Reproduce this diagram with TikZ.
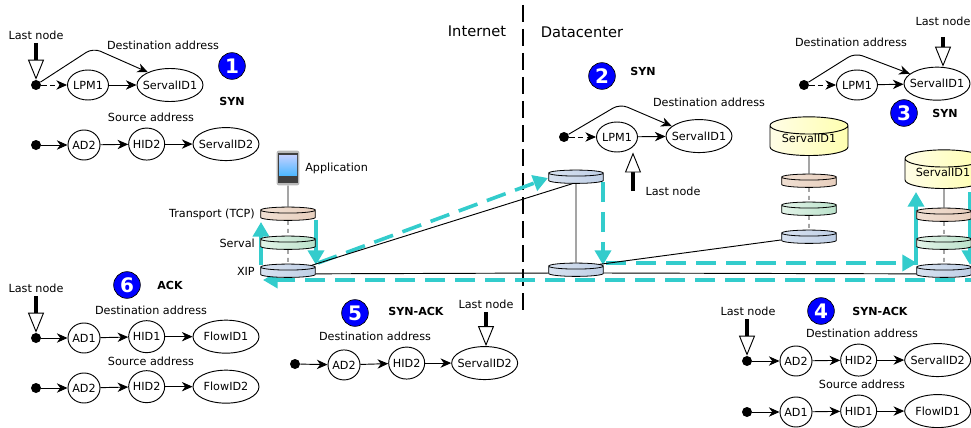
\documentclass[tikz,border=0pt]{standalone}
\usepackage{fontspec}
\setmainfont{DejaVu Sans}
\usetikzlibrary{shapes.geometric,arrows.meta}
\definecolor{pathcyan}{HTML}{33CCCC}
\begin{document}
\begin{tikzpicture}[
        x=0.75pt, y=-0.75pt,
        node distance=45pt,
        txt/.style={font=\fontsize{8.4}{10}\selectfont, inner sep=0pt},
        head/.style={font=\fontsize{11}{13}\selectfont, inner sep=0pt},
        pkt/.style={font=\bfseries\fontsize{8.3}{10}\selectfont, inner sep=0pt},
        badge/.style={circle, draw=black, fill=blue, text=white, minimum size=20pt, inner sep=0pt, line width=0.5pt, font=\bfseries\fontsize{15}{17}\selectfont},
        dot/.style={circle, fill=black, minimum width=7.5pt, minimum height=7pt, inner sep=0pt},
        addr/.style={ellipse, draw, line width=0.7pt, inner sep=-6pt, font=\fontsize{8.4}{10}\selectfont},
        lpm/.style={addr, minimum width=30.75pt, minimum height=22.5pt},
        ad/.style={addr, minimum width=24pt, minimum height=22.5pt},
        hid/.style={addr, minimum width=27pt, minimum height=24pt},
        sid/.style={addr, minimum width=49.5pt, minimum height=24.75pt},
        layer/.style={cylinder, shape border rotate=90, draw, aspect=0.11, inner xsep=20.5pt, inner ysep=0pt, minimum height=10pt, line width=0.6pt, yshift=-2.2pt},
        tcp/.style={layer, left color=tanA, right color=tanB},
        srv/.style={layer, left color=greenA, right color=greenB},
        xip/.style={layer, left color=blueA, right color=blueB},
        app/.style={cylinder, shape border rotate=90, draw, aspect=0.22, inner xsep=29.25pt, inner ysep=0pt, minimum height=29pt, line width=0.7pt, left color=yellowA, right color=yellowB, yshift=-4.5pt},
        hop/.style={-{Stealth[length=8pt,width=7pt,inset=2.5pt]}, line width=0.7pt},
        hopdash/.style={hop, dash pattern=on 4pt off 2.5pt},
        last/.style={-{Triangle[open,fill=white,length=15pt,width=12pt,line width=0.7pt]}, line width=2.8pt},
        wire/.style={line width=0.7pt},
        flow/.style={-{Triangle[length=11pt,width=12pt]}, pathcyan, line width=2.7pt},
        flowdash/.style={flow, dash pattern=on 15pt off 7.5pt},
        split/.style={line width=1pt, dash pattern=on 13pt off 5pt}
    ]
        \definecolor{tanA}{HTML}{F0DFD2}
        \definecolor{tanB}{HTML}{E8CFBE}
        \definecolor{greenA}{HTML}{E2F3E8}
        \definecolor{greenB}{HTML}{BBE2CB}
        \definecolor{blueA}{HTML}{D8E2F0}
        \definecolor{blueB}{HTML}{BFCFE6}
        \definecolor{yellowA}{HTML}{FFFDE6}
        \definecolor{yellowB}{HTML}{FFFFB0}
        \useasboundingbox (0,0) rectangle (971,428);

        % Internet / Datacenter
        \coordinate (splittop) at (523,5);
        \coordinate (splitbot) at (523,315);
        \draw[split] (splittop) -- (splitbot);
        \node[head] (internet) at (477,31) {Internet};
        \node[head] (datacenter) at (582,32) {Datacenter};

        % Packet path
        \coordinate (f1) at (261,265);
        \coordinate (f2) at (261,222);
        \coordinate (f3) at (316,220);
        \coordinate (f4) at (316,265);
        \coordinate (f5) at (318,263);
        \coordinate (f6) at (548,178);
        \coordinate (f7) at (603,182);
        \coordinate (f8) at (603,265);
        \coordinate (f9) at (606,263);
        \coordinate (f10) at (917,263);
        \coordinate (f11) at (916,265);
        \coordinate (f12) at (916,192);
        \coordinate (f13) at (970,192);
        \coordinate (f14) at (970,265);
        \coordinate (f15) at (985,280);
        \coordinate (f16) at (263,280);
        \draw[flow] (f1) -- (f2);
        \draw[flow] (f3) -- (f4);
        \draw[flowdash] (f5) -- (f6);
        \draw[flowdash] (f7) -- (f8);
        \draw[flowdash] (f9) -- (f10);
        \draw[flow] (f11) -- (f12);
        \draw[flow] (f13) -- (f14);
        \draw[flowdash] (f15) -- (f16);

        % Client stack
        \node[tcp] (tcp1) at (288,214) {};
        \node[srv] (srv1) at (288,243) {};
        \node[xip] (xip1) at (288,271) {};
        \node[txt, anchor=east] (tcp1lab) at (255,214) {Transport (TCP)};
        \node[txt, anchor=east] (srv1lab) at (255,243) {Serval};
        \node[txt, anchor=east] (xip1lab) at (255,271) {XIP};

        % Phone
        \node[rectangle, rounded corners=1.5pt, fill=gray!55, minimum width=17pt, minimum height=26pt, inner sep=0pt] (phone) at (288,168) {};
        \node[rectangle, fill=black!75, minimum width=14.5pt, minimum height=22.5pt, inner sep=0pt] (bezel) at (288,168) {};
        \node[rectangle, top color=cyan!25!blue!25, bottom color=cyan!60!blue!70, minimum width=13.5pt, minimum height=15pt, inner sep=0pt] (screen) at (288,165.5) {};
        \node[txt, anchor=west] (applab) at (305,168) {Application};

        % Routers
        \node[xip] (rtop) at (576,177) {};
        \node[xip] (rbot) at (576,270) {};

        % Datacenter stack
        \node[app] (appA) at (809,139) {};
        \node[txt] (appAlab) at (809,138) {ServalID1};
        \node[tcp] (tcp2) at (809,181) {};
        \node[srv] (srv2) at (809,209) {};
        \node[xip] (xip2) at (809,237) {};

        % Server stack
        \node[app] (appB) at (944,172) {};
        \node[txt] (appBlab) at (943,172) {ServalID1};
        \node[tcp] (tcp3) at (944,215) {};
        \node[srv] (srv3) at (944,243) {};
        \node[xip] (xip3) at (944,271) {};

        % Wires
        \draw[wire] (phone) -- (tcp1);
        \draw[wire, dashed] (tcp1) -- (srv1);
        \draw[wire, dashed] (srv1) -- (xip1);
        \draw[wire] (xip1.20) -- (rtop.south west);
        \draw[wire] (xip1) -- (rbot);
        \draw[wire] (rtop) -- (rbot);
        \draw[wire] (rbot) -- (xip3);
        \draw[wire] (rbot.20) -- (xip2.west);
        \draw[wire] (appA) -- (tcp2);
        \draw[wire, dashed] (tcp2) -- (srv2);
        \draw[wire, dashed] (srv2) -- (xip2);
        \draw[wire] (appB) -- (tcp3);
        \draw[wire, dashed] (tcp3) -- (srv3);
        \draw[wire, dashed] (srv3) -- (xip3);

        % 1
        \node[dot] (a1) at (36,85) {};
        \node[lpm, right of=a1, node distance=39pt] (a2) {LPM1};
        \node[sid, right of=a2, node distance=61.5pt] (a3) {ServalID1};
        \node[dot] (b1) at (36,145) {};
        \node[ad, right of=b1, node distance=36pt] (b2) {AD2};
        \node[hid, right of=b2, node distance=47pt, yshift=0.7pt] (b3) {HID2};
        \node[sid, right of=b3, node distance=59.5pt] (b4) {ServalID2};
        \coordinate (apeak) at (93,48);
        \coordinate (abar) at (36,43);
        \draw[hopdash] (a1) -- (a2);
        \draw[hop] (a2) -- (a3);
        \draw[hop, rounded corners=6pt] (a1) -- (apeak) -- (a3.150);
        \draw[hop] (b1) -- (b2);
        \draw[hop] (b2) -- (b3);
        \draw[hop] (b3) -- (b4);
        \draw[last] (abar) -- (a1);
        \node[txt] (alast) at (36,35) {Last node};
        \node[txt] (adst) at (163,45) {Destination address};
        \node[txt] (asrc) at (151,117) {Source address};
        \node[badge] (n1) at (232,66) {1};
        \node[pkt] (p1) at (232,101) {SYN};

        % 2
        \node[dot] (c1) at (564,137) {};
        \node[lpm, right of=c1, node distance=39.75pt] (c2) {LPM1};
        \node[sid, right of=c2, node distance=61.5pt, yshift=0.7pt] (c3) {ServalID1};
        \coordinate (cpeak) at (620,104);
        \coordinate (cbar) at (633,191);
        \draw[hopdash] (c1) -- (c2);
        \draw[hop] (c2) -- (c3);
        \draw[hop, rounded corners=6pt] (c1) -- (cpeak) -- (c3.160);
        \draw[last] (cbar) -- (cbar |- c2.south);
        \node[txt] (clast) at (673,191) {Last node};
        \node[txt] (cdst) at (709,102) {Destination address};
        \node[badge] (n2) at (602,76) {2};
        \node[pkt] (p2) at (643,71) {SYN};

        % 3
        \node[dot] (d1) at (804,85) {};
        \node[lpm, right of=d1, node distance=39.75pt] (d2) {LPM1};
        \node[sid, right of=d2, node distance=60pt, yshift=1pt] (d3) {ServalID1};
        \coordinate (dpeak) at (855,53);
        \coordinate (dbar) at (943,37);
        \draw[hopdash] (d1) -- (d2);
        \draw[hop] (d2) -- (d3);
        \draw[hop, rounded corners=6pt] (d1) -- (dpeak) -- (d3.160);
        \draw[last] (dbar) -- (dbar |- d3.north);
        \node[txt] (dlast) at (943,21) {Last node};
        \node[txt] (ddst) at (851,42) {Destination address};
        \node[badge] (n3) at (904,113) {3};
        \node[pkt] (p3) at (945,113) {SYN};

        % 4
        \node[dot] (e1) at (747,361) {};
        \node[ad, right of=e1, node distance=36.75pt] (e2) {AD2};
        \node[hid, right of=e2, node distance=47pt, yshift=0.7pt] (e3) {HID2};
        \node[sid, right of=e3, node distance=59.25pt] (e4) {ServalID2};
        \node[dot] (g1) at (747,412) {};
        \node[ad, right of=g1, node distance=36.75pt] (g2) {AD1};
        \node[hid, right of=g2, node distance=47pt, yshift=0.7pt] (g3) {HID1};
        \node[sid, right of=g3, node distance=59.25pt] (g4) {FlowID1};
        \coordinate (ebar) at (747,319);
        \draw[hop] (e1) -- (e2);
        \draw[hop] (e2) -- (e3);
        \draw[hop] (e3) -- (e4);
        \draw[hop] (g1) -- (g2);
        \draw[hop] (g2) -- (g3);
        \draw[hop] (g3) -- (g4);
        \draw[last] (ebar) -- (e1);
        \node[txt] (elast) at (748,311) {Last node};
        \node[txt] (edst) at (862,333) {Destination address};
        \node[txt] (esrc) at (862,384) {Source address};
        \node[badge] (n4) at (821,311) {4};
        \node[pkt] (p4) at (880,311) {SYN-ACK};

        % 5
        \node[dot] (h1) at (295,364) {};
        \node[ad, right of=h1, node distance=36.75pt, yshift=-0.7pt] (h2) {AD2};
        \node[hid, right of=h2, node distance=47pt, yshift=1.4pt] (h3) {HID2};
        \node[sid, right of=h3, node distance=58.5pt] (h4) {ServalID2};
        \coordinate (hbar) at (486,312);
        \draw[hop] (h1) -- (h2);
        \draw[hop] (h2) -- (h3);
        \draw[hop] (h3) -- (h4);
        \draw[last] (hbar) -- (hbar |- h4.north);
        \node[txt] (hlast) at (486,304) {Last node};
        \node[txt] (hdst) at (375,336) {Destination address};
        \node[badge] (n5) at (355,313) {5};
        \node[pkt] (p5) at (416,311) {SYN-ACK};

        % 6
        \node[dot] (k1) at (36,338) {};
        \node[ad, right of=k1, node distance=36pt] (k2) {AD1};
        \node[hid, right of=k2, node distance=47pt, yshift=1pt] (k3) {HID1};
        \node[sid, right of=k3, node distance=59.5pt] (k4) {FlowID1};
        \node[dot] (m1) at (36,388) {};
        \node[ad, right of=m1, node distance=36pt] (m2) {AD2};
        \node[hid, right of=m2, node distance=47pt, yshift=1pt] (m3) {HID2};
        \node[sid, right of=m3, node distance=59.5pt] (m4) {FlowID2};
        \coordinate (kbar) at (36,296);
        \draw[hop] (k1) -- (k2);
        \draw[hop] (k2) -- (k3);
        \draw[hop] (k3) -- (k4);
        \draw[hop] (m1) -- (m2);
        \draw[hop] (m2) -- (m3);
        \draw[hop] (m3) -- (m4);
        \draw[last] (kbar) -- (k1);
        \node[txt] (klast) at (36,288) {Last node};
        \node[txt] (kdst) at (151,310) {Destination address};
        \node[txt] (ksrc) at (151,361) {Source address};
        \node[badge] (n6) at (127,285) {6};
        \node[pkt] (p6) at (170,285) {ACK};
\end{tikzpicture}
\end{document}
